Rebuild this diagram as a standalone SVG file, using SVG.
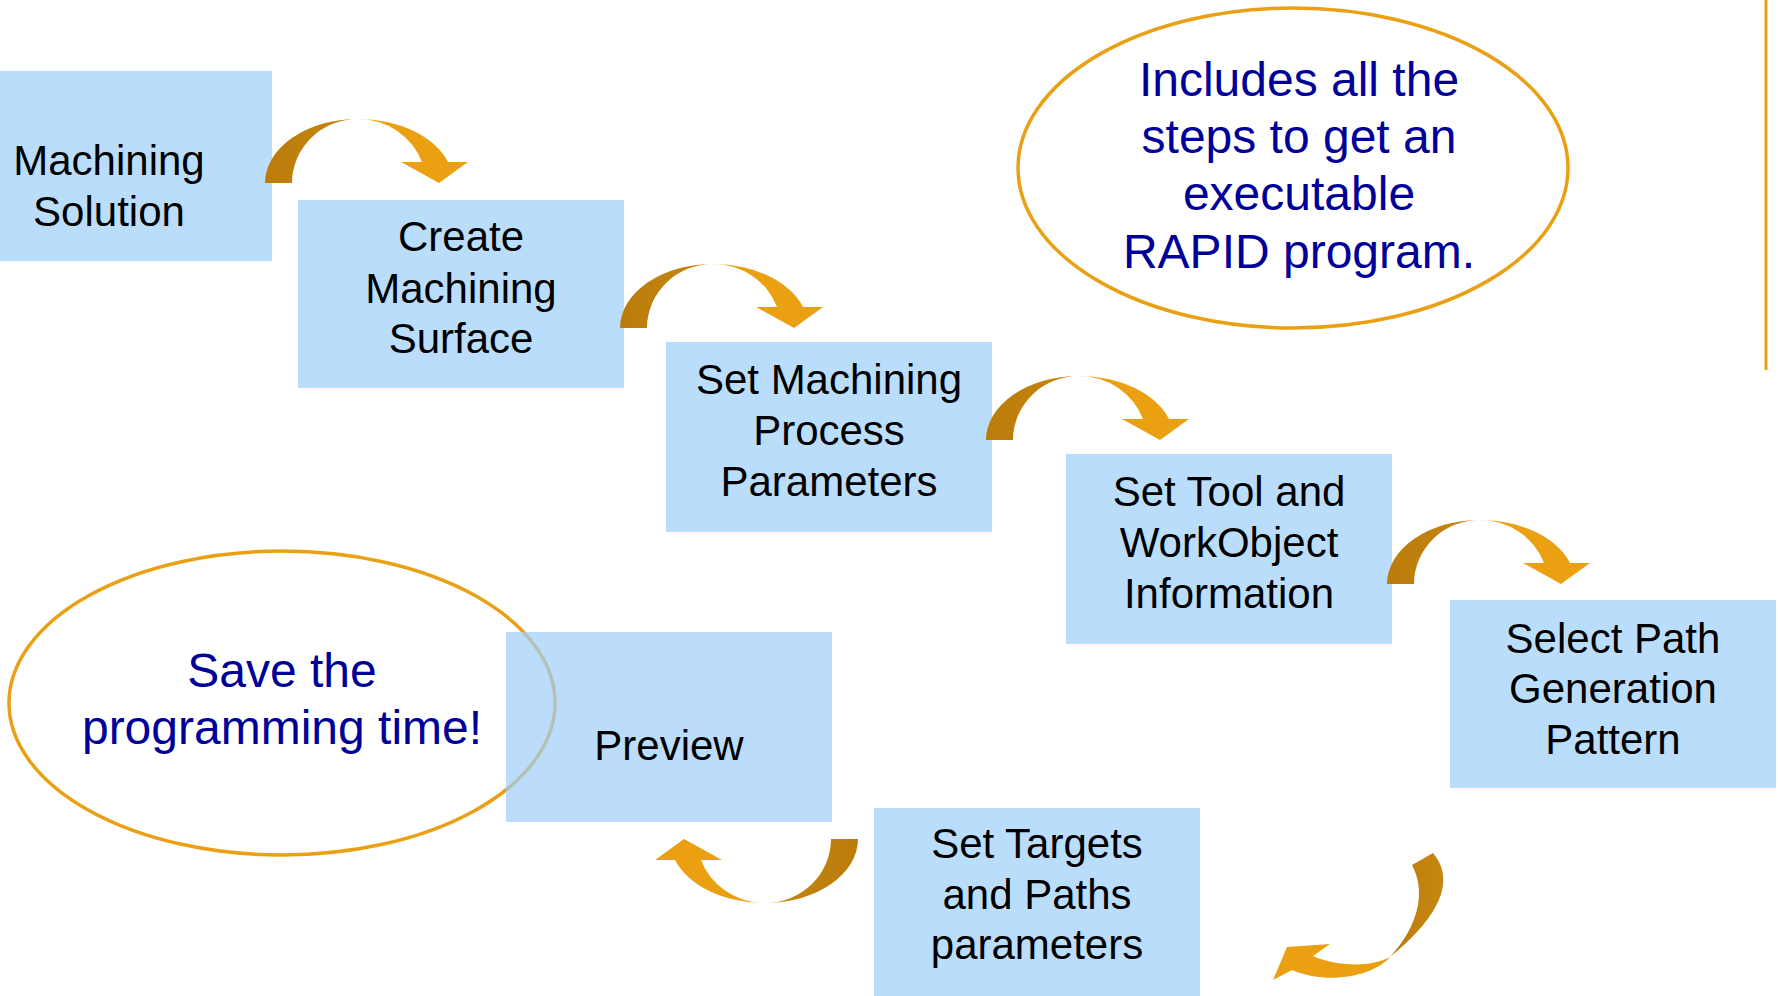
<svg xmlns="http://www.w3.org/2000/svg" xmlns:xlink="http://www.w3.org/1999/xlink" width="1778" height="996" viewBox="0 0 1778 996">
<style>
.box{fill:#BBDDFC;}
.boxt{fill:#000;font-family:"Liberation Sans",Arial,sans-serif;font-size:42px;text-anchor:middle;}
.note{fill:#FFFFFF;stroke:#EAA014;stroke-width:3.5;}
.notet{fill:#000099;font-family:"Liberation Sans",Arial,sans-serif;font-size:48px;text-anchor:middle;}
.dark{fill:url(#gd);}
.light{fill:#EBA011;}
</style>
<defs>
<linearGradient id="gd" x1="0" y1="0" x2="1" y2="0">
<stop offset="0" stop-color="#BB7C0B"/>
<stop offset="1" stop-color="#C58710"/>
</linearGradient>
<g id="carrow">
<path class="dark" d="M -93,64 A 93,64 0 0 1 0,0 A 66,64 0 0 0 -66,64 Z"/>
<path class="light" d="M 0,0 A 95,64 0 0 1 90,43 L 110,43 L 81,64 L 43,43 L 64,43 A 68,64 0 0 0 0,0 Z"/>
</g>
</defs>
<rect width="1778" height="996" fill="#FFFFFF"/>

<g id="note-save">
<ellipse class="note" cx="282" cy="703" rx="273" ry="152"/>
<text class="notet" x="282" y="687">Save the</text>
<text class="notet" x="282" y="744">programming time!</text>
</g>

<g id="note-includes">
<ellipse class="note" cx="1293" cy="168" rx="275" ry="160"/>
<text class="notet" x="1299" y="96">Includes all the</text>
<text class="notet" x="1299" y="153">steps to get an</text>
<text class="notet" x="1299" y="210">executable</text>
<text class="notet" x="1299" y="268">RAPID program.</text>
</g>

<g id="divider">
<line x1="1766" y1="0" x2="1766" y2="370" stroke="#EAA014" stroke-width="3"/>
</g>

<g id="n1">
<rect class="box" x="-54" y="71" width="326" height="190"/>
<text class="boxt" x="109" y="175">Machining</text>
<text class="boxt" x="109" y="226">Solution</text>
</g>

<g id="n2">
<rect class="box" x="298" y="200" width="326" height="188"/>
<text class="boxt" x="461" y="251">Create</text>
<text class="boxt" x="461" y="303">Machining</text>
<text class="boxt" x="461" y="353">Surface</text>
</g>

<g id="n3">
<rect class="box" x="666" y="342" width="326" height="190"/>
<text class="boxt" x="829" y="394">Set Machining</text>
<text class="boxt" x="829" y="445">Process</text>
<text class="boxt" x="829" y="496">Parameters</text>
</g>

<g id="n4">
<rect class="box" x="1066" y="454" width="326" height="190"/>
<text class="boxt" x="1229" y="506">Set Tool and</text>
<text class="boxt" x="1229" y="557">WorkObject</text>
<text class="boxt" x="1229" y="608">Information</text>
</g>

<g id="n5">
<rect class="box" x="1450" y="600" width="326" height="188"/>
<text class="boxt" x="1613" y="653">Select Path</text>
<text class="boxt" x="1613" y="703">Generation</text>
<text class="boxt" x="1613" y="754">Pattern</text>
</g>

<g id="n6">
<rect class="box" x="874" y="808" width="326" height="188"/>
<text class="boxt" x="1037" y="858">Set Targets</text>
<text class="boxt" x="1037" y="909">and Paths</text>
<text class="boxt" x="1037" y="959">parameters</text>
</g>

<g id="n7">
<rect x="506" y="632" width="326" height="190" fill="rgb(158,206,250)" fill-opacity="0.7"/>
<text class="boxt" x="669" y="760">Preview</text>
</g>

<g id="connectors">
<use xlink:href="#carrow" href="#carrow" transform="translate(358,119)"/>
<use xlink:href="#carrow" href="#carrow" transform="translate(713,264)"/>
<use xlink:href="#carrow" href="#carrow" transform="translate(1079,376)"/>
<use xlink:href="#carrow" href="#carrow" transform="translate(1480,520)"/>
<g id="arrow5">
<path class="dark" d="M 1390,957 C 1430,925 1460,885 1433,853 L 1412,865 C 1428,895 1415,930 1390,957 Z"/>
<path class="light" d="M 1390,957 C 1375,975 1330,986 1292,970 L 1273,980 L 1287,947 L 1330,944 L 1313,956 C 1335,966 1370,968 1390,957 Z"/>
</g>
<use xlink:href="#carrow" href="#carrow" transform="translate(765,903) rotate(180)"/>
</g>
</svg>
